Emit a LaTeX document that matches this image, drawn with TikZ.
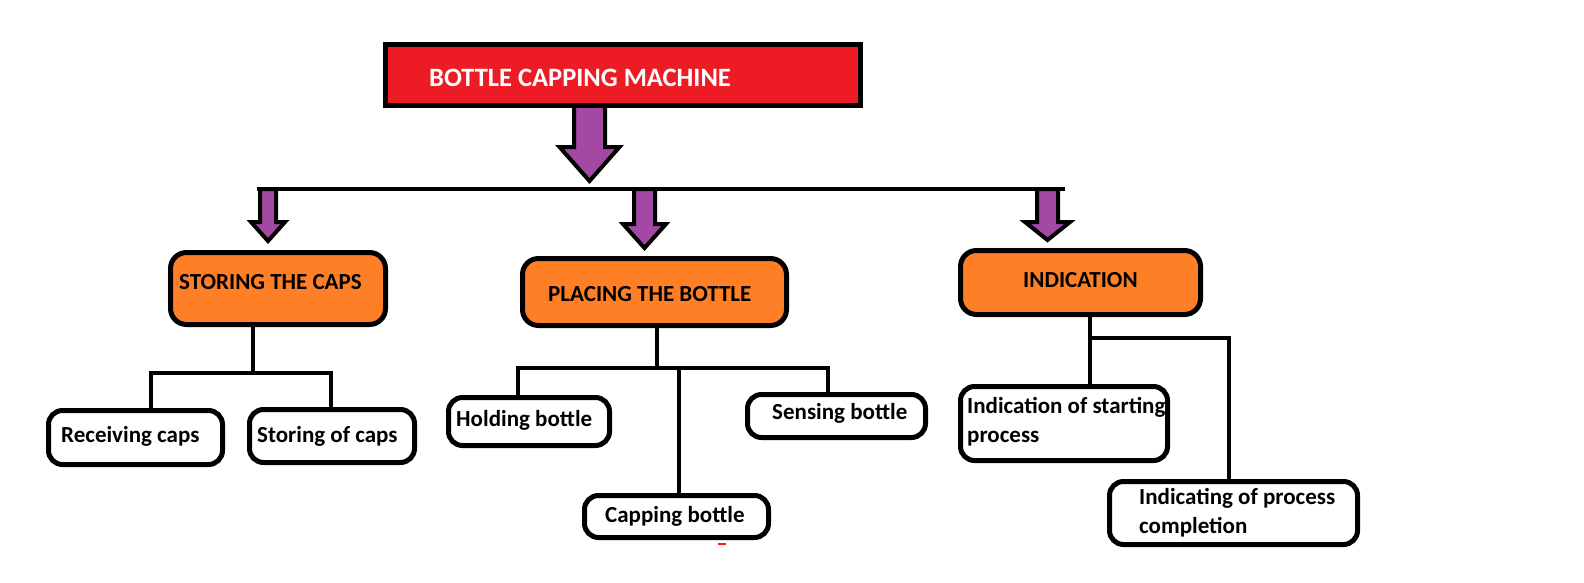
\documentclass[tikz,border=0pt]{standalone}
\usepackage{fontspec}
\setmainfont{Carlito}
\definecolor{boxred}{HTML}{ED1C24}
\definecolor{boxorange}{HTML}{FF7F27}
\definecolor{arrowpurple}{HTML}{A349A4}
\newcommand{\fatarrow}[6]{%
  \draw[fatarrowstyle] ({#1-#3},#2) -- ({#1-#3},#4) -- ({#1-#5},#4) -- (#1,#6)
    -- ({#1+#5},#4) -- ({#1+#3},#4) -- ({#1+#3},#2) -- cycle;}
\tikzset{
  fatarrowstyle/.style={draw=black, fill=arrowpurple, line width=4pt, line join=miter},
  titlebox/.style={draw=black, fill=boxred, line width=5pt, inner sep=0pt},
  mainbox/.style={draw=black, fill=boxorange, line width=5pt, rounded corners=16pt, inner sep=0pt},
  subbox/.style={draw=black, fill=white, line width=5pt, rounded corners=14pt, inner sep=0pt},
  conn/.style={draw=black, line width=4pt},
  bigtxt/.style={font=\bfseries\fontsize{26.5}{32}\selectfont, text=white, inner sep=0pt, anchor=base west},
  maintxt/.style={font=\bfseries\fontsize{23}{28.5}\selectfont, text=black, inner sep=0pt, anchor=base west},
  subtxt/.style={font=\bfseries\fontsize{23}{28.5}\selectfont, text=black, inner sep=0pt, anchor=base west, align=left},
}
\begin{document}
\begin{tikzpicture}[x=1pt, y=-1pt]
\useasboundingbox[fill=white] (0,0) rectangle (1584,583);

% boxes
\node[titlebox, minimum width=475pt, minimum height=61pt] (title) at (623,75) {};
\node[mainbox, minimum width=215pt, minimum height=72pt] (storing) at (278,288.5) {};
\node[mainbox, minimum width=264pt, minimum height=67pt] (placing) at (654.5,292) {};
\node[mainbox, minimum width=240pt, minimum height=64pt] (indication) at (1080.5,282.5) {};
\node[subbox, minimum width=174pt, minimum height=54pt] (recv) at (135.5,437.5) {};
\node[subbox, minimum width=165pt, minimum height=53pt] (storof) at (332,436) {};
\node[subbox, minimum width=161pt, minimum height=48pt] (holding) at (529,421.5) {};
\node[subbox, minimum width=178pt, minimum height=43pt] (sensing) at (836.5,416) {};
\node[subbox, minimum width=184pt, minimum height=42pt] (capping) at (676.5,516.5) {};
\node[subbox, minimum width=207pt, minimum height=74pt] (start) at (1064,423.5) {};
\node[subbox, minimum width=248pt, minimum height=63pt] (complete) at (1233.5,513) {};

% texts
\node[bigtxt] (ttitle) at (429,87) {BOTTLE CAPPING MACHINE};
\node[maintxt] (tstoring) at (179,289) {STORING THE CAPS};
\node[maintxt] (tplacing) at (548,301) {PLACING THE BOTTLE};
\node[maintxt] (tindication) at (1023,287) {INDICATION};
\node[subtxt] (trecv) at (61,442) {Receiving caps};
\node[subtxt] (tstorof) at (257,442) {Storing of caps};
\node[subtxt] (tholding) at (456,426) {Holding bottle};
\node[subtxt] (tsensing) at (772,419) {Sensing bottle};
\node[subtxt] (tcapping) at (605,522) {Capping bottle};
\node[subtxt] (tstart) at (967,442) {Indication of starting\\process};
\node[subtxt] (tcomplete) at (1139,533) {Indicating of process\\completion};

% main horizontal line
\coordinate (hl) at (257,189);
\coordinate (hr) at (1065,189);
\draw[conn] (hl) -- (hr);

% fat arrows
\fatarrow{589.5}{106}{15.5}{147}{30}{181}
\fatarrow{268}{189}{8}{222}{17}{241}
\fatarrow{644.5}{189}{10.5}{224}{21.5}{248}
\fatarrow{1047.5}{189}{10.5}{222}{22.5}{240}

% storing connectors
\coordinate (sj) at (253,373);
\coordinate (sl) at (151,373);
\coordinate (sr) at (331,373);
\draw[conn] (sj |- storing.south) -- (sj);
\draw[conn] (sl |- recv.north) -- (sl) -- (sr) -- (sr |- storof.north);

% placing connectors
\coordinate (pj) at (657,368);
\coordinate (pl) at (518,368);
\coordinate (pr) at (828,368);
\coordinate (pc) at (679,368);
\draw[conn] (pj |- placing.south) -- (pj);
\draw[conn] (pl |- holding.north) -- (pl) -- (pr) -- (pr |- sensing.north);
\draw[conn] (pc) -- (pc |- capping.north);

% indication connectors
\coordinate (ij) at (1090,338);
\coordinate (ir) at (1229,338);
\draw[conn] (ij |- indication.south) -- (ij |- start.north);
\draw[conn] (ij) -- (ir) -- (ir |- complete.north);

% small red mark
\draw[boxred, line width=1.5pt] (718,544) -- (726,544);
\end{tikzpicture}
\end{document}
